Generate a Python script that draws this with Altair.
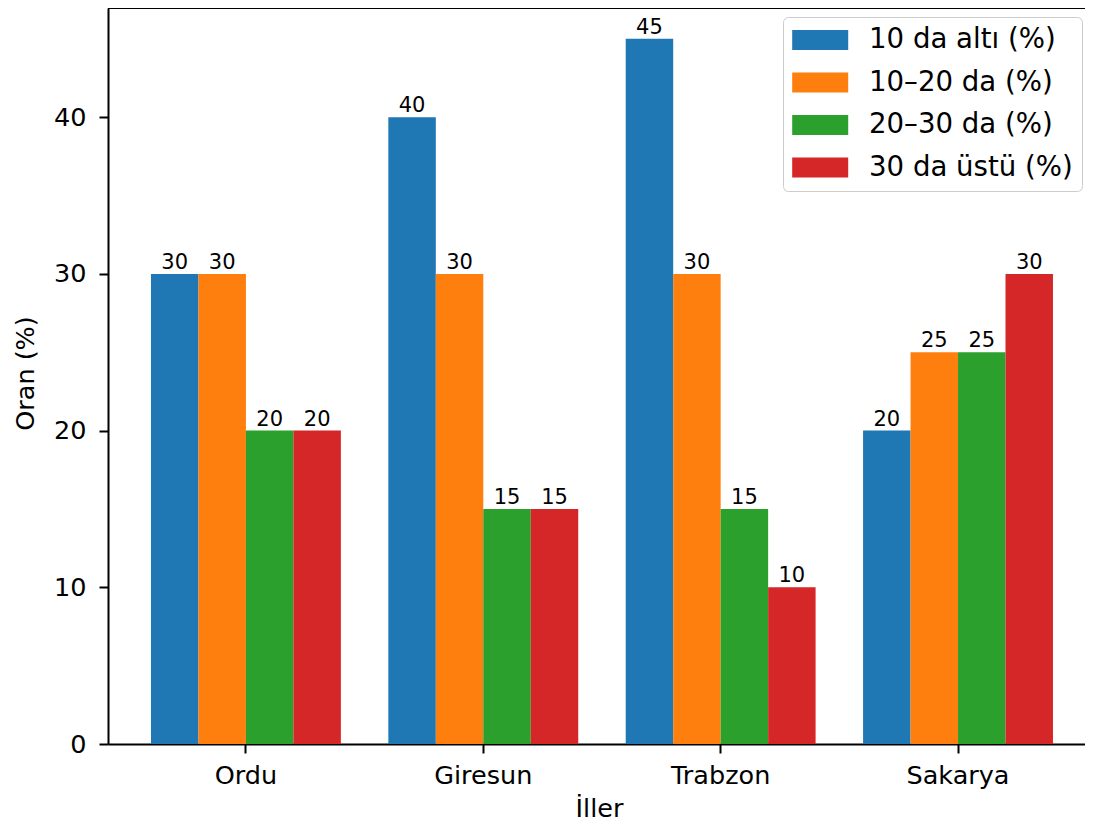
import altair as alt
import pandas as pd

iller = ["Ordu", "Giresun", "Trabzon", "Sakarya"]
gruplar = ["10 da altı (%)", "10–20 da (%)", "20–30 da (%)", "30 da üstü (%)"]
alti10 = [30, 40, 45, 20]
ara10_20 = [30, 30, 30, 25]
ara20_30 = [20, 15, 15, 25]
ustu30 = [20, 15, 10, 30]
renkler = ["#1f77b4", "#ff7f0e", "#2ca02c", "#d62728"]
y_ticks = [0, 10, 20, 30, 40]

rows = []
for g, vals in zip(gruplar, [alti10, ara10_20, ara20_30, ustu30]):
    for il, v in zip(iller, vals):
        rows.append({"il": il, "grup": g, "oran": v})
df = pd.DataFrame(rows)

W = 977
H = 736
FONT = "DejaVu Sans"

x_enc = alt.X(
    "il:N", sort=iller, title="İller",
    scale=alt.Scale(paddingInner=0.2, paddingOuter=0.158, align=0.573),
    axis=alt.Axis(labelAngle=0, labelFontSize=25.5, labelFont=FONT, labelColor="black",
                  labelPadding=10, tickSize=9, tickWidth=2, tickColor="black",
                  domainColor="black", domainWidth=2, titleFontSize=25.5, titleFont=FONT,
                  titleFontWeight="normal", titleColor="black", titleX=491, titleY=72,
                  titleBaseline="alphabetic", grid=False),
)
xo_enc = alt.XOffset("grup:N", sort=gruplar, scale=alt.Scale(paddingInner=0, paddingOuter=0))
y_enc = alt.Y(
    "oran:Q", title="Oran (%)",
    scale=alt.Scale(domain=[0, 46.97], nice=False, zero=True),
    axis=alt.Axis(values=y_ticks, labelFontSize=25.5, labelFont=FONT, labelColor="black",
                  labelPadding=13, tickSize=9, tickWidth=2, tickColor="black",
                  domainColor="black", domainWidth=2, titleFontSize=25.5, titleFont=FONT,
                  titleFontWeight="normal", titleColor="black", titleX=-83, titleY=365,
                  titleBaseline="middle", titleAngle=270, grid=False),
)

bars = alt.Chart(df).mark_bar(stroke=None).encode(
    x=x_enc, xOffset=xo_enc, y=y_enc,
    color=alt.Color("grup:N", sort=gruplar, scale=alt.Scale(domain=gruplar, range=renkler),
                    legend=alt.Legend(
                        title=None, orient="none", legendX=675, legendY=9,
                        labelFontSize=27.6, labelFont=FONT, labelColor="black", labelLimit=500,
                        symbolType="M-1,-0.725L3.058,-0.725L3.058,0.725L-1,0.725Z",
                        symbolSize=762, symbolStrokeWidth=0, symbolOpacity=1,
                        padding=9, labelOffset=49, rowPadding=14.5,
                        strokeColor="#cccccc", cornerRadius=5, fillColor="white")),
)

labels = alt.Chart(df).mark_text(
    baseline="alphabetic", dy=-5, fontSize=21, font=FONT, color="black"
).encode(x=alt.X("il:N", sort=iller), xOffset=alt.XOffset("grup:N", sort=gruplar),
         y="oran:Q", text="oran:Q")

top_rule = alt.Chart(alt.Data(values=[{}])).mark_rule(color="black", strokeWidth=2).encode(
    x=alt.value(0), x2=alt.value(W), y=alt.value(0)
)

chart = alt.layer(bars, labels, top_rule).properties(
    width=W, height=H,
    autosize=alt.AutoSizeParams(type="none"),
    padding={"left": 100, "top": 0, "right": 0, "bottom": 80},
).configure_view(stroke=None).configure(background="white")

chart.save("out.html", embed_options={"renderer": "svg", "actions": False})
